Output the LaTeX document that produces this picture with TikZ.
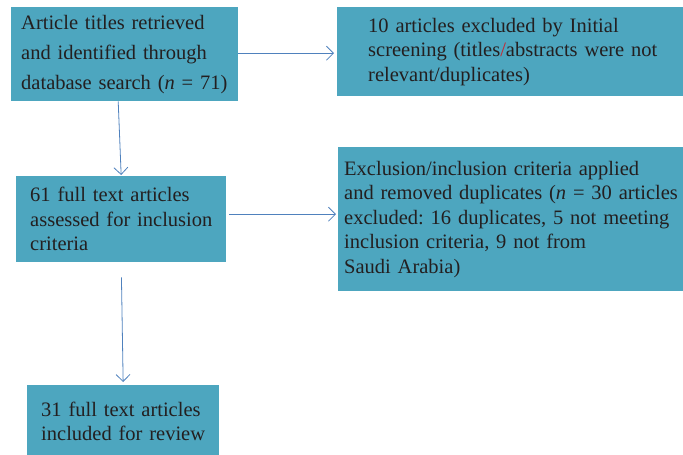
\documentclass[tikz,border=0pt]{standalone}
\usepackage{fontspec}
\setmainfont{Liberation Serif}
\frenchspacing
\usetikzlibrary{arrows.meta}
\definecolor{boxfill}{RGB}{77,166,191}
\definecolor{arrowblue}{RGB}{79,129,189}
\definecolor{inkdark}{RGB}{35,31,32}
\definecolor{slashred}{RGB}{200,40,50}

\begin{document}
\begin{tikzpicture}[x=1pt, y=-1pt,
   >={Straight Barb[length=7pt,width=14pt]},
   stage/.style={rectangle, fill=boxfill, anchor=north west, align=left,
      inner xsep=0pt, inner ysep=0pt, text=inkdark,
      font=\fontsize{20.5}{24.5}\selectfont,
      execute at begin node={\leftskip=#1\hyphenpenalty=10000 }},
   flow/.style={->, draw=arrowblue, line width=0.8pt}]
\useasboundingbox (0,0) rectangle (683,455);
\clip (0,0) rectangle (683,455);

% left column
\node[stage=10pt, text width=227pt, minimum height=94pt,
      font=\fontsize{20.5}{30}\selectfont] (article) at (11,7)
   {Article titles retrieved\\and identified through\\database search (\textit{n} = 71)};
\node[stage=14pt, text width=210pt, minimum height=86pt] (assessed) at (16,176)
   {61 full text articles\\assessed for inclusion\\criteria};
\node[stage=14pt, text width=192pt, minimum height=72pt] (included) at (27,385)
   {31 full text articles\\included for review};

% right column (runs off the page edge)
\node[stage=31pt, text width=380pt, minimum height=89pt] (screening) at (337,7)
   {10 articles excluded by Initial\\screening (titles\textcolor{slashred}{/}abstracts were not\\relevant/duplicates)};
\node[stage=6pt, text width=380pt, minimum height=144pt] (criteria) at (338,147)
   {Exclusion/inclusion criteria applied\\and removed duplicates (\textit{n} = 30 articles\\excluded: 16 duplicates, 5 not meeting\\inclusion criteria, 9 not from\\Saudi Arabia)};

% arrows
\draw[flow, shorten >=3pt] ([yshift=1pt]article.east) -- ([yshift=1pt]article.east -| screening.west);
\draw[flow, shorten >=1pt] ([xshift=-6.5pt]article.south) -- (assessed.north);
\draw[flow, shorten <=3pt, shorten >=2pt] ([yshift=5pt]assessed.east) -- ([yshift=5pt]assessed.east -| criteria.west);
\draw[flow, shorten <=15pt, shorten >=3pt] (assessed.south) -- (included.north);
\end{tikzpicture}
\end{document}
